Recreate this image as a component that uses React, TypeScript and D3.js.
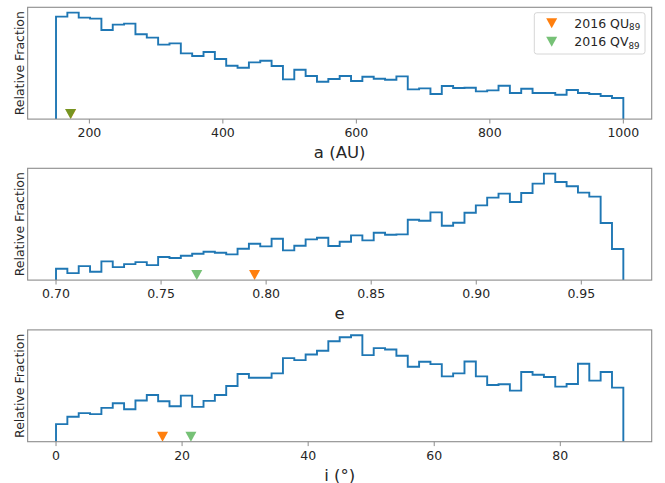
import React from "react";
import * as d3 from "d3";

const W = 665;
const H = 483;

// Histogram bin ranges (50 bins each)
const aBinRange = [150, 1000];
const eBinRange = [0.7, 0.97];
const iBinRange = [0, 90];
const binCount = 50;

// Relative fraction per bin (arbitrary units)
const aValues = [
  307, 319, 304, 301, 267, 283, 286, 254, 244, 223,
  227, 197, 189, 201, 180, 160, 154, 170, 175, 159,
  119, 148, 129, 112, 120, 129, 114, 127, 121, 118,
  128, 89, 92, 75, 99, 93, 94, 83, 86, 100,
  78, 91, 78, 78, 73, 87, 78, 75, 69, 63,
];
const eValues = [
  34, 21, 42, 25, 56, 39, 48, 54, 45, 69,
  66, 73, 79, 85, 82, 77, 94, 109, 101, 124,
  89, 103, 122, 127, 102, 115, 134, 119, 142, 136,
  137, 181, 178, 203, 163, 172, 202, 224, 247, 259,
  234, 261, 289, 319, 294, 281, 262, 250, 171, 93,
];
const iValues = [
  53, 75, 86, 83, 102, 116, 98, 124, 141, 122,
  107, 139, 105, 123, 141, 168, 204, 193, 193, 206,
  252, 246, 263, 274, 303, 315, 321, 261, 282, 278,
  259, 226, 241, 234, 197, 206, 242, 197, 171, 173,
  154, 210, 202, 195, 166, 174, 235, 184, 210, 163,
];

const aTicks = [200, 400, 600, 800, 1000];
const eTicks = [0.7, 0.75, 0.8, 0.85, 0.9, 0.95];
const iTicks = [0, 20, 40, 60, 80];

// Objects: 2016 QU89, 2016 QV89
const objectNames = ["2016 QU", "2016 QV"];
const objectSubs = ["89", "89"];
const objectA = [172.0, 171.8];
const objectE = [0.7945, 0.767];
const objectI = [16.9, 21.4];
const objectColors = ["#ff7f0e", "#2ca02c"];
const objectOpacity = [1, 0.65];

const FONT = "DejaVu Sans, sans-serif";
const AX_LEFT = 27.65;
const AX_RIGHT = 651.7;
const AX_H = 111.8;
const PANEL_TOPS = [7.3, 168.3, 329.9];
const SPINE = "#8c8c8c";
const LINE = "#1f77b4";

function tri(cx: number, cy: number) {
  return `M${cx - 5.5},${cy - 5} L${cx + 5.5},${cy - 5} L${cx},${cy + 5} Z`;
}

function Panel(props: {
  top: number;
  range: number[];
  values: number[];
  ticks: number[];
  fmt: (v: number) => string;
  xlabel: string;
  objX: number[];
}) {
  const { top, range, values, ticks, fmt, xlabel, objX } = props;
  const [lo, hi] = range;
  const pad = (hi - lo) * 0.05;
  const x = d3.scaleLinear().domain([lo - pad, hi + pad]).range([AX_LEFT, AX_RIGHT]);
  const maxV = d3.max(values) as number;
  const bottom = top + AX_H;
  const y = d3.scaleLinear().domain([0, maxV * 1.05]).range([bottom, top]);
  const edges = d3.range(binCount + 1).map((k) => lo + ((hi - lo) * k) / binCount);

  let d = `M${x(edges[0])},${y(0)}`;
  values.forEach((v, k) => {
    d += ` V${y(v)} H${x(edges[k + 1])}`;
  });
  d += ` V${y(0)}`;

  return (
    <g>
      <path d={d} fill="none" stroke={LINE} strokeWidth={1.9} strokeLinejoin="miter" />
      {objX.map((v, k) => (
        <path
          key={k}
          d={tri(x(v), y(0) - 5)}
          fill={objectColors[k]}
          fillOpacity={objectOpacity[k]}
          stroke="none"
        />
      ))}
      <rect
        x={AX_LEFT}
        y={top}
        width={AX_RIGHT - AX_LEFT}
        height={AX_H}
        fill="none"
        stroke={SPINE}
        strokeWidth={1.1}
      />
      {ticks.map((t) => (
        <g key={t}>
          <line x1={x(t)} x2={x(t)} y1={bottom} y2={bottom + 4.4} stroke={SPINE} strokeWidth={1} />
          <text
            x={x(t)}
            y={bottom + 18.3}
            textAnchor="middle"
            fontSize={12.5}
            fontFamily={FONT}
            fill="#262626"
          >
            {fmt(t)}
          </text>
        </g>
      ))}
      <text
        x={(AX_LEFT + AX_RIGHT) / 2}
        y={bottom + 38.8}
        textAnchor="middle"
        fontSize={16.5}
        fontFamily={FONT}
        fill="#262626"
      >
        {xlabel}
      </text>
      <text
        transform={`translate(23.8,${top + AX_H / 2}) rotate(-90)`}
        textAnchor="middle"
        fontSize={12.5}
        fontFamily={FONT}
        fill="#262626"
      >
        Relative Fraction
      </text>
    </g>
  );
}

export default function App() {
  const fmtInt = d3.format("d");
  const fmt2 = d3.format(".2f");
  const legX = 534.3;
  const legY = 12.7;
  return (
    <svg
      width={W}
      height={H}
      style={{ position: "absolute", left: 0, top: 0, background: "#fff" }}
    >
      <rect x={0} y={0} width={W} height={H} fill="#fff" />
      <Panel top={PANEL_TOPS[0]} range={aBinRange} values={aValues} ticks={aTicks} fmt={fmtInt} xlabel="a (AU)" objX={objectA} />
      <Panel top={PANEL_TOPS[1]} range={eBinRange} values={eValues} ticks={eTicks} fmt={fmt2} xlabel="e" objX={objectE} />
      <Panel top={PANEL_TOPS[2]} range={iBinRange} values={iValues} ticks={iTicks} fmt={fmtInt} xlabel="i (°)" objX={objectI} />
      <g>
        <rect
          x={legX}
          y={legY}
          width={110.7}
          height={41.3}
          rx={2.5}
          fill="#fff"
          fillOpacity={0.8}
          stroke="#d6d6d6"
          strokeWidth={1}
        />
        {objectNames.map((n, k) => {
          const cy = legY + 10.6 + k * 18.4;
          return (
            <g key={n}>
              <path d={tri(legX + 17.4, cy)} fill={objectColors[k]} fillOpacity={objectOpacity[k]} />
              <text x={legX + 40} y={cy + 4.5} fontSize={12.5} fontFamily={FONT} fill="#262626">
                {n}
                <tspan fontSize={8.75} dy={2.5}>{objectSubs[k]}</tspan>
              </text>
            </g>
          );
        })}
      </g>
    </svg>
  );
}
